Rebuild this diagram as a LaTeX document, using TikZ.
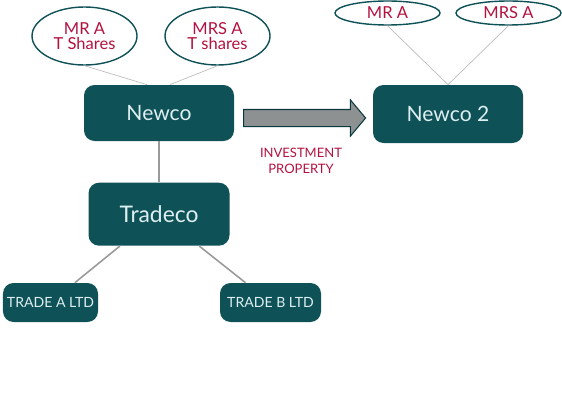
\documentclass[tikz,border=0pt]{standalone}
\usepackage{fontspec}
\setmainfont{Lato}
\usepackage{xcolor}
\definecolor{BoxTeal}{HTML}{0E5157}
\definecolor{BoxText}{HTML}{DDEFF0}
\definecolor{OwnerRed}{HTML}{B3123F}
\definecolor{LinkGrey}{HTML}{BDBDBD}
\definecolor{TreeGrey}{HTML}{9A9A9A}
\definecolor{ArrowGrey}{HTML}{8E9191}
\usetikzlibrary{positioning,shapes.geometric,shapes.arrows}

\begin{document}
\begin{tikzpicture}[
  company/.style = {rectangle, rounded corners=6pt, fill=BoxTeal, text=BoxText,
                    align=center, inner sep=0pt},
  owner/.style   = {ellipse, draw=BoxTeal, thick, fill=white, text=OwnerRed,
                    align=center, inner sep=0pt, minimum width=2.1cm,
                    font=\fontsize{9.4}{10.5}\selectfont},
  link/.style    = {draw=LinkGrey, line width=0.4pt},
  tree/.style    = {draw=TreeGrey, line width=0.9pt},
  note/.style    = {text=OwnerRed, align=center, font=\fontsize{7.4}{9}\selectfont}
]
  \useasboundingbox (0,0) rectangle (11.24,-8.26);

  % Left group
  \node[company, minimum width=3.0cm, minimum height=1.12cm,
        font=\fontsize{12}{14}\selectfont] (newco) at (3.18,-2.26) {Newco};
  \node[owner, minimum height=1.16cm] (mra) at (1.69,-0.72) {MR A\\[-2pt]T Shares};
  \node[owner, minimum height=1.16cm] (mrsa) at (4.35,-0.72) {MRS A\\[-2pt]T shares};
  \node[company, minimum width=2.82cm, minimum height=1.26cm,
        font=\fontsize{13}{15}\selectfont, below=0.82cm of newco] (tradeco) {Tradeco};
  \node[company, minimum width=1.9cm, minimum height=0.78cm,
        font=\fontsize{8}{10}\selectfont] (tradea) at (1.01,-6.05) {TRADE A LTD};
  \node[company, minimum width=2.02cm, minimum height=0.78cm,
        font=\fontsize{8}{10}\selectfont] (tradeb) at (5.41,-6.05) {TRADE B LTD};

  % Right group
  \node[company, minimum width=3.0cm, minimum height=1.16cm,
        font=\fontsize{12}{14}\selectfont] (newco2) at (8.96,-2.28) {Newco 2};
  \node[owner, minimum height=0.48cm] (mra2) at (7.75,-0.26) {MR A};
  \node[owner, minimum height=0.48cm] (mrsa2) at (10.17,-0.26) {MRS A};

  % Transfer arrow
  \node[single arrow, draw=BoxTeal!70!black, fill=ArrowGrey, line width=0.6pt,
        minimum height=2.44cm, inner sep=0.16cm, single arrow head extend=0.19cm,
        single arrow tip angle=100] (move) at (6.02,-2.36) {};
  \node[note, below=0.3cm of move] (invest) {INVESTMENT\\PROPERTY};

  % Connectors
  \draw[link] (mra.south) -- ([xshift=-0.24cm]newco.north);
  \draw[link] (mrsa.south) -- ([xshift=0.22cm]newco.north);
  \draw[link] (mra2.south) -- (newco2.north);
  \draw[link] (mrsa2.south) -- (newco2.north);
  \draw[tree] (newco) -- (tradeco);
  \draw[tree] (tradeco) -- (tradea);
  \draw[tree] (tradeco) -- (tradeb);

\end{tikzpicture}
\end{document}
